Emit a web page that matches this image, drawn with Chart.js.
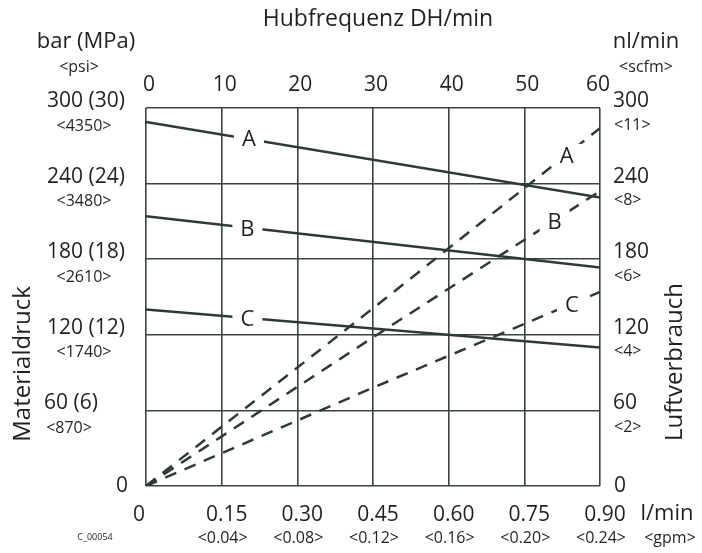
<!DOCTYPE html>
<html>
<head>
<meta charset="utf-8">
<script src="https://cdn.jsdelivr.net/npm/chart.js@4/dist/chart.umd.min.js"></script>
<style>
  html, body { margin: 0; padding: 0; background: #fff; }
  #wrap { width: 702px; height: 553px; }
</style>
</head>
<body>
<div id="wrap"><canvas id="chart" width="702" height="553"></canvas></div>
<script>
// Tick values and labels
const dhTicks = [0, 10, 20, 30, 40, 50, 60];
const lminLabels = ["0", "0.15", "0.30", "0.45", "0.60", "0.75", "0.90"];
const gpmLabels = ["", "<0.04>", "<0.08>", "<0.12>", "<0.16>", "<0.20>", "<0.24>"];
const pressureTicks = [0, 60, 120, 180, 240, 300];
const barLabels = ["0", "60 (6)", "120 (12)", "180 (18)", "240 (24)", "300 (30)"];
const psiLabels = ["", "<870>", "<1740>", "<2610>", "<3480>", "<4350>"];
const airLabels = ["0", "60", "120", "180", "240", "300"];
const scfmLabels = ["", "<2>", "<4>", "<6>", "<8>", "<11>"];

// Material pressure (bar) vs stroke rate, solid lines
const pressureDH = [0, 60];
const pressureA = [289, 229];
const pressureB = [214, 173.5];
const pressureC = [140, 110];

// Air consumption (nl/min) vs stroke rate, dashed lines
const airDH = [0, 30, 60];
const airA = [0, 141, 284];
const airB = [0, 118, 234];
const airC = [0, 78, 154];

// curve labels, placed in data coordinates
const curveLabels = [
  { text: "A", dh: 13.6, val: 276 },
  { text: "B", dh: 13.4, val: 204 },
  { text: "C", dh: 13.4, val: 132.5 },
  { text: "A", dh: 55.6, val: 262 },
  { text: "B", dh: 54.0, val: 210 },
  { text: "C", dh: 56.3, val: 144 },
];

const LINE = "#2f3a38";
const GRID = "#3b4442";
const TEXT = "#231f20";
const FONT = "'Open Sans', 'Noto Sans', sans-serif";

function pts(xs, ys) {
  return xs.map((x, i) => ({ x: x, y: ys[i] }));
}

function solid(data) {
  return { data: data, borderColor: LINE, borderWidth: 2.5, pointRadius: 0, fill: false, tension: 0 };
}
function dashed(data) {
  return { data: data, borderColor: LINE, borderWidth: 2.5, borderDash: [12, 9], pointRadius: 0, fill: false, tension: 0 };
}

// Draws curve letters and all axis text
const textPlugin = {
  id: "texts",
  afterDatasetsDraw(chart) {
    const c = chart.ctx;
    const xs = chart.scales.x;
    const ys = chart.scales.y;
    c.save();
    c.font = "22px " + FONT;
    c.textAlign = "center";
    c.textBaseline = "middle";
    curveLabels.forEach((l) => {
      const px = xs.getPixelForValue(l.dh);
      const py = ys.getPixelForValue(l.val);
      c.fillStyle = "#fff";
      c.fillRect(px - 15, py - 12, 30, 24);
      c.fillStyle = TEXT;
      c.fillText(l.text, px, py + 1);
    });
    c.restore();
  },
  afterDraw(chart) {
    const c = chart.ctx;
    const xs = chart.scales.x;
    const ys = chart.scales.y;
    c.save();
    c.fillStyle = TEXT;
    c.textBaseline = "middle";

    function txt(s, x, y, size, align) {
      c.font = size + "px " + FONT;
      c.textAlign = align || "center";
      c.fillText(s, x, y);
    }

    // title and unit headers
    txt("Hubfrequenz DH/min", 378, 19, 23);
    txt("bar (MPa)", 86, 42, 22);
    txt("<psi>", 79, 67, 16);
    txt("nl/min", 646, 42, 22);
    txt("<scfm>", 646, 67, 16);
    txt("l/min", 667, 514, 22);
    txt("<gpm>", 670, 538, 16);
    txt("C_00054", 95, 537, 9);

    // top axis: stroke rate
    dhTicks.forEach((v, i) => {
      const px = xs.getPixelForValue(v) + (i === dhTicks.length - 1 ? -2 : 3);
      txt(String(v), px, 85, 21);
    });

    // bottom axis: flow
    dhTicks.forEach((v, i) => {
      const px = xs.getPixelForValue(v);
      txt(lminLabels[i], px + (i === 0 ? -7 : 5), 515, 21);
      if (gpmLabels[i]) txt(gpmLabels[i], px + 1, 538, 16);
    });

    // left axis: pressure
    pressureTicks.forEach((v, i) => {
      const py = ys.getPixelForValue(v);
      if (i === 0) {
        txt(barLabels[i], 122, py, 21);
        return;
      }
      const cx = i === 1 ? 71 : 86;
      txt(barLabels[i], cx, py - 7, 21);
      txt(psiLabels[i], cx - 2, py + 18, 16);
    });

    // right axis: air consumption
    pressureTicks.forEach((v, i) => {
      const py = ys.getPixelForValue(v);
      if (i === 0) {
        txt(airLabels[i], 614, py, 21, "left");
        return;
      }
      txt(airLabels[i], 613, py - 7, 21, "left");
      txt(scfmLabels[i], 614, py + 17, 16, "left");
    });

    // rotated axis titles
    c.save();
    c.translate(23, 364);
    c.rotate(-Math.PI / 2);
    txt("Materialdruck", 0, 0, 24);
    c.restore();
    c.save();
    c.translate(675, 362);
    c.rotate(-Math.PI / 2);
    txt("Luftverbrauch", 0, 0, 24);
    c.restore();

    c.restore();
  },
};

const ctx = document.getElementById("chart").getContext("2d");
const chart = new Chart(ctx, {
  type: "line",
  data: {
    datasets: [
      solid(pts(pressureDH, pressureA)),
      solid(pts(pressureDH, pressureB)),
      solid(pts(pressureDH, pressureC)),
      dashed(pts(airDH, airA)),
      dashed(pts(airDH, airB)),
      dashed(pts(airDH, airC)),
    ],
  },
  options: {
    responsive: false,
    animation: false,
    layout: { padding: { left: 146, right: 102, top: 108, bottom: 67 } },
    scales: {
      x: {
        type: "linear",
        min: 0,
        max: 60,
        ticks: { display: false, stepSize: 10 },
        grid: { color: GRID, lineWidth: 1.6, drawTicks: false },
        border: { display: false },
      },
      y: {
        type: "linear",
        min: 0,
        max: 300,
        ticks: { display: false, stepSize: 60 },
        grid: { color: GRID, lineWidth: 1.6, drawTicks: false },
        border: { display: false },
      },
    },
    plugins: {
      legend: { display: false },
      tooltip: { enabled: false },
    },
  },
  plugins: [textPlugin],
});
</script>
</body>
</html>
